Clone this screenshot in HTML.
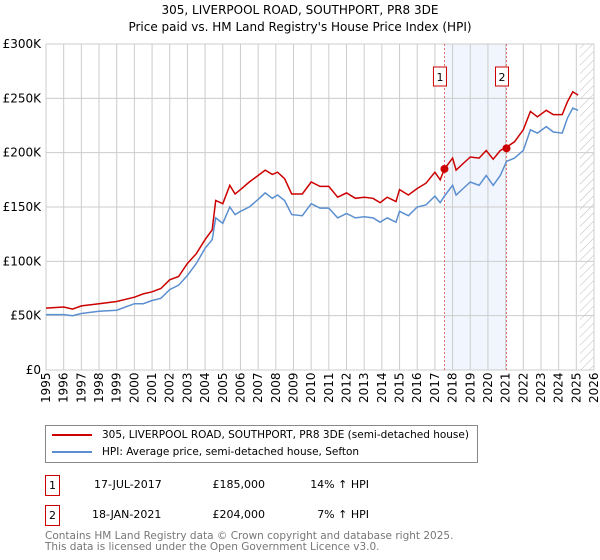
<!DOCTYPE html>
<html><head><meta charset="utf-8"><style>
body{margin:0;background:#fff;font-family:"DejaVu Sans","Liberation Sans",sans-serif;}
#wrap{position:relative;width:600px;height:560px;overflow:hidden}
.t{position:absolute;font-size:12px;color:#000;white-space:nowrap}
</style></head><body>
<div id="wrap">
<div class="t" style="left:0;width:600px;text-align:center;top:3px;font-size:12px">305, LIVERPOOL ROAD, SOUTHPORT, PR8 3DE</div>
<div class="t" style="left:0;width:600px;text-align:center;top:20px;font-size:12px">Price paid vs. HM Land Registry's House Price Index (HPI)</div>
<svg id="chart" width="600" height="420" style="position:absolute;left:0;top:0" font-family="DejaVu Sans, Liberation Sans, sans-serif"></svg>
<div style="position:absolute;left:45px;top:425px;width:431px;height:36px;border:1px solid #888;font-size:10.5px">
 <div style="position:absolute;left:6px;top:3px;white-space:nowrap"><span style="display:inline-block;width:40px;height:2px;background:#cc0000;vertical-align:middle;margin-right:10px"></span>305, LIVERPOOL ROAD, SOUTHPORT, PR8 3DE (semi-detached house)</div>
 <div style="position:absolute;left:6px;top:20px;white-space:nowrap"><span style="display:inline-block;width:40px;height:2px;background:#5b8fd0;vertical-align:middle;margin-right:10px"></span>HPI: Average price, semi-detached house, Sefton</div>
</div>
<div>
 <div class="t" style="left:45px;top:475px;width:13px;height:19px;border:1px solid #cc0000;text-align:center;line-height:19px;font-size:11px">1</div>
 <div class="t" style="left:94px;top:478px;font-size:11px">17-JUL-2017</div>
 <div class="t" style="left:205px;width:60px;text-align:right;top:478px;font-size:11px">£185,000</div>
 <div class="t" style="left:300px;width:69px;text-align:right;top:478px;font-size:11px">14% ↑ HPI</div>
</div>
<div>
 <div class="t" style="left:45px;top:505px;width:13px;height:19px;border:1px solid #cc0000;text-align:center;line-height:19px;font-size:11px">2</div>
 <div class="t" style="left:92px;top:508px;font-size:11px">18-JAN-2021</div>
 <div class="t" style="left:205px;width:60px;text-align:right;top:508px;font-size:11px">£204,000</div>
 <div class="t" style="left:300px;width:69px;text-align:right;top:508px;font-size:11px">7% ↑ HPI</div>
</div>
<div class="t" style="left:45px;top:531px;font-size:10.5px;color:#777;line-height:11px">Contains HM Land Registry data © Crown copyright and database right 2025.<br>This data is licensed under the Open Government Licence v3.0.</div>
</div>
<script>
const yTicks=[0,50000,100000,150000,200000,250000,300000];
const yTickLabels=["£0","£50K","£100K","£150K","£200K","£250K","£300K"];
const xYears=[1995,1996,1997,1998,1999,2000,2001,2002,2003,2004,2005,2006,2007,2008,2009,2010,2011,2012,2013,2014,2015,2016,2017,2018,2019,2020,2021,2022,2023,2024,2025,2026];
const redT=[1995,1996,1996.5,1997,1998,1999,2000,2000.5,2001,2001.5,2002,2002.5,2003,2003.5,2004,2004.4,2004.6,2005,2005.4,2005.7,2006,2006.5,2007,2007.4,2007.8,2008.1,2008.5,2008.9,2009.5,2010,2010.5,2011,2011.5,2012,2012.5,2013,2013.5,2013.9,2014.3,2014.8,2015,2015.5,2016,2016.5,2017,2017.3,2017.54,2018,2018.2,2018.6,2019,2019.5,2019.9,2020.3,2020.7,2021.05,2021.5,2022,2022.4,2022.8,2023.3,2023.7,2024.2,2024.5,2024.8,2025.1];
const redV=[57,58,56,59,61,63,67,70,72,75,83,86,98,107,120,129,156,153,170,162,166,173,179,184,180,182,176,162,162,173,169,169,159,163,158,159,158,154,159,155,166,161,167,172,182,175,185,195,184,190,196,195,202,194,202,205,210,221,238,233,239,235,235,247,256,253];
const hpiV=[51,51,50,52,54,55,61,61,64,66,74,78,87,98,112,120,140,135,150,143,146,150,157,163,158,161,156,143,142,153,149,149,140,144,140,141,140,136,140,136,146,142,150,152,160,154,160,170,161,167,173,170,179,170,179,192,195,202,221,218,224,219,218,232,241,239];
const sales=[{t:2017.54,v:185},{t:2021.05,v:204}];
const saleLabels=["1","2"];
const NS="http://www.w3.org/2000/svg";
const svg=document.getElementById('chart');
const X0=46,X1=594,Y0=370,Y1=44;
const xs=t=>X0+(t-1995)/(2026-1995)*(X1-X0);
const ys=v=>Y0-v/300000*(Y0-Y1);
function mk(tag,attrs){const e=document.createElementNS(NS,tag);for(const k in attrs)e.setAttribute(k,attrs[k]);svg.appendChild(e);return e;}
let band=mk('rect',{x:xs(sales[0].t),y:Y1,width:xs(sales[1].t)-xs(sales[0].t),height:Y0-Y1,fill:'#eef3fc',opacity:0.8});


const defs=mk('defs',{});
defs.innerHTML='<pattern id="h" width="6" height="6" patternUnits="userSpaceOnUse" patternTransform="rotate(45)"><line x1="0" y1="0" x2="0" y2="6" stroke="#bbb" stroke-width="1"/></pattern>';
let hat=mk('rect',{x:xs(2025.2),y:Y1,width:X1-xs(2025.2),height:Y0-Y1,fill:'url(#h)'});


yTicks.forEach((v,i)=>{
 let l=mk('line',{x1:X0,x2:X1,y1:ys(v),y2:ys(v),stroke:'#ccc'});
 
 
 let t=mk('text',{x:X0-5,y:ys(v)+4,'text-anchor':'end','font-size':12,fill:'#000'});
 t.textContent=yTickLabels[i];
 
 
});
xYears.forEach(y=>{
 let l=mk('line',{x1:xs(y),x2:xs(y),y1:Y1,y2:Y0,stroke:'#ccc'});
 
 
 let t=mk('text',{transform:`translate(${xs(y)+4},${Y0+33}) rotate(-90)`,'font-size':12,fill:'#000'});
 t.textContent=y;
 
 
});
mk('rect',{x:X0,y:Y1,width:X1-X0,height:Y0-Y1,fill:'none',stroke:'#ccc'});
sales.forEach((s,i)=>{
 let l=mk('line',{x1:xs(s.t),x2:xs(s.t),y1:Y1,y2:Y0,stroke:'#e05050','stroke-dasharray':'2,2','stroke-width':0.8});
 
 
 let b=mk('rect',{x:xs(s.t)-11,y:67,width:13,height:19,fill:'#fff',stroke:'#cc0000'});
 
 
 let t=mk('text',{x:xs(s.t)-4.5,y:81,'text-anchor':'middle','font-size':11});
 t.textContent=saleLabels[i];
 
 
});
function path(vals){return redT.map((t,i)=>(i?'L':'M')+xs(t).toFixed(1)+','+ys(vals[i]*1000).toFixed(1)).join('');}
let hp=mk('path',{d:path(hpiV),fill:'none',stroke:'#5b8fd0','stroke-width':1.5});


let rp=mk('path',{d:path(redV),fill:'none',stroke:'#cc0000','stroke-width':1.5});


sales.forEach(s=>{
 let c=mk('circle',{cx:xs(s.t),cy:ys(s.v*1000),r:4,fill:'#cc0000'});
 
 
});
</script>
</body></html>
